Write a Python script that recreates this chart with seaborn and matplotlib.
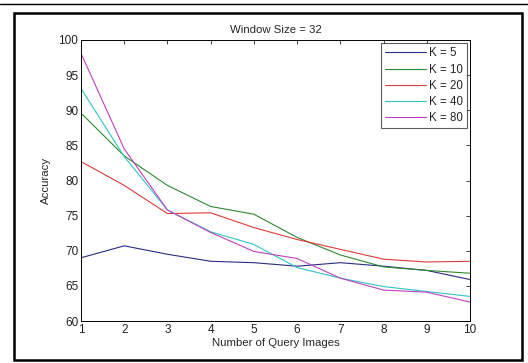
import numpy as np
import pandas as pd
import matplotlib
matplotlib.use("Agg")
import matplotlib.pyplot as plt
import seaborn as sns
from matplotlib.patches import Rectangle
from matplotlib.lines import Line2D

# Data
query_images = [1, 2, 3, 4, 5, 6, 7, 8, 9, 10]
k5 = [69.0, 70.7, 69.5, 68.5, 68.3, 67.8, 68.3, 67.8, 67.2, 65.9]
k10 = [89.6, 83.5, 79.3, 76.3, 75.2, 71.9, 69.4, 67.7, 67.2, 66.8]
k20 = [82.7, 79.3, 75.3, 75.4, 73.3, 71.6, 70.2, 68.8, 68.4, 68.5]
k40 = [93.1, 83.4, 75.8, 72.7, 70.9, 67.6, 66.1, 64.9, 64.2, 63.5]
k80 = [98.1, 84.5, 75.8, 72.6, 69.9, 68.9, 66.1, 64.4, 64.1, 62.7]
labels = ["K = 5", "K = 10", "K = 20", "K = 40", "K = 80"]
colors = ["#2b2b80", "#2f8a2f", "#e03a3a", "#2fc4c4", "#c040c0"]

df = pd.concat([
    pd.DataFrame({"query": query_images, "acc": vals, "K": lab})
    for vals, lab in zip([k5, k10, k20, k40, k80], labels)
])

sns.set_style("white")
plt.rcParams["font.family"] = ["Liberation Sans", "DejaVu Sans"]
plt.rcParams["font.size"] = 8

fig = plt.figure(figsize=(5.28, 3.63), dpi=100)
ax = fig.add_axes([81 / 528, 1 - 321 / 363, (470 - 81) / 528, (321 - 40) / 363])

sns.lineplot(data=df, x="query", y="acc", hue="K", palette=colors,
             linewidth=0.8, ax=ax)

ax.set_xlim(1, 10)
ax.set_ylim(60, 100)
ax.set_xticks(query_images)
ax.set_yticks(range(60, 101, 5))
ax.tick_params(direction="in", length=3, width=0.6, top=True, right=True,
               labelsize=8.5, colors="#222222", pad=2)
for s in ax.spines.values():
    s.set_linewidth(0.7)
    s.set_color("black")
ax.set_xlabel("Number of Query Images", fontsize=8.2, labelpad=1.5)
ax.set_ylabel("Accuracy", fontsize=8.2, labelpad=5)
ax.set_title("Window Size = 32", fontsize=8.2, pad=5)

leg = ax.legend(loc="upper right", handlelength=3.6, fontsize=8.3,
                frameon=True, fancybox=False, borderaxespad=0.3,
                labelspacing=0.36, handletextpad=0.2, borderpad=0.35)
leg.get_frame().set_edgecolor("#333333")
leg.get_frame().set_linewidth(0.8)
leg.set_title(None)

# outer frame of the figure image
fig.add_artist(Rectangle((14 / 528, 1 - 360 / 363), (522 - 14) / 528, (360 - 13) / 363,
                         transform=fig.transFigure, fill=False, edgecolor="black",
                         linewidth=1.8))
fig.add_artist(Line2D([0, 1], [1 - 3.5 / 363, 1 - 3.5 / 363],
                      transform=fig.transFigure, color="black", linewidth=1.0))

fig.savefig("out.png", dpi=100)
